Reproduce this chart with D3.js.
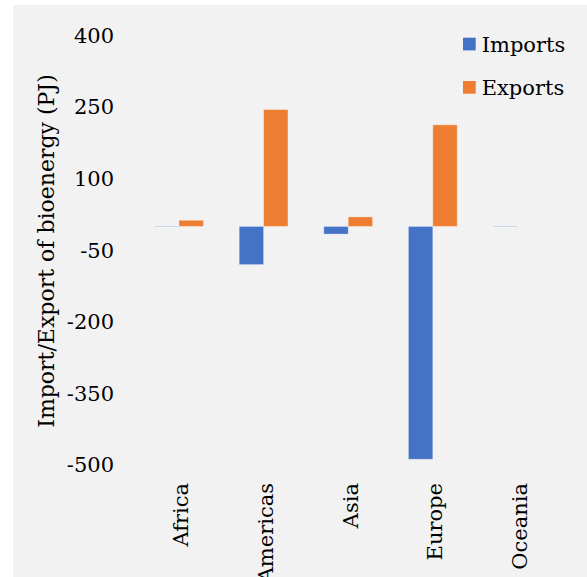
<!DOCTYPE html>
<html>
<head>
<meta charset="utf-8">
<script src="https://cdn.jsdelivr.net/npm/d3@7"></script>
<style>
  html, body { margin: 0; padding: 0; background: #fff; }
  svg text { font-family: "DejaVu Serif", serif; fill: #000; }
</style>
</head>
<body>
<svg id="chart" width="587" height="577"></svg>
<script>
// ----- data -----
const regions = ["Africa", "Americas", "Asia", "Europe", "Oceania"];
const seriesNames = ["Imports", "Exports"];
const imports = [-0.8, -80, -16, -488, -0.8];
const exports = [13, 245, 20, 213, 0];
const yTicks = [400, 250, 100, -50, -200, -350, -500];

const colors = ["#4472c4", "#ed7d31"];

const svg = d3.select("#chart");
const W = 587, H = 577;

// background panel
svg.append("rect")
    .attr("x", 13).attr("y", 5)
    .attr("width", W - 13).attr("height", H - 5)
    .attr("fill", "#f2f2f2");

// scales
const x = d3.scaleBand().domain(regions).range([136.7, 559.7])
    .paddingInner(0.423).paddingOuter(0.2115);
const xs = d3.scaleBand().domain(seriesNames).range([0, x.bandwidth()]);
const y = d3.scaleLinear().domain([-500, 400]).range([465, 35.6]);

// y axis (labels only, plain hyphen for negatives)
const yAxis = svg.append("g")
    .attr("transform", "translate(118,0)")
    .call(d3.axisLeft(y).tickValues(yTicks).tickSize(0).tickPadding(4).tickFormat(d => String(d)));
yAxis.select(".domain").remove();
yAxis.selectAll("text")
    .style("font-family", '"DejaVu Serif", serif')
    .style("font-size", "21px")
    .attr("fill", "#000");

// bars
const rows = regions.map((r, i) => ({ region: r, values: [imports[i], exports[i]] }));
const groups = svg.append("g").selectAll("g")
    .data(rows)
    .join("g")
    .attr("transform", d => `translate(${x(d.region)},0)`);

groups.selectAll("rect")
    .data(d => d.values.map((v, j) => ({ key: seriesNames[j], value: v, j })))
    .join("rect")
    .attr("x", d => xs(d.key))
    .attr("width", xs.bandwidth())
    .attr("y", d => y(Math.max(0, d.value)))
    .attr("height", d => Math.abs(y(d.value) - y(0)))
    .attr("fill", d => colors[d.j])
    .attr("stroke", "rgba(255,255,255,0.35)")
    .attr("stroke-width", 1);

// category labels (rotated)
svg.append("g").selectAll("text")
    .data(regions)
    .join("text")
    .attr("transform", d => `translate(${x(d) + x.bandwidth() / 2 + 2},483) rotate(-90)`)
    .attr("text-anchor", "end")
    .attr("dy", "0.35em")
    .style("font-size", "21px")
    .text(d => d);

// y title
svg.append("text")
    .attr("transform", "translate(46,251) rotate(-90)")
    .attr("text-anchor", "middle")
    .attr("dy", "0.35em")
    .style("font-size", "22px")
    .text("Import/Export of bioenergy (PJ)");

// legend
const legend = svg.append("g").selectAll("g")
    .data(seriesNames)
    .join("g")
    .attr("transform", (d, i) => `translate(463,${37.7 + i * 43.3})`);
legend.append("rect")
    .attr("width", 12.7).attr("height", 12.7)
    .attr("fill", (d, i) => colors[i]);
legend.append("text")
    .attr("x", 18.7).attr("y", 6.5)
    .attr("dy", "0.35em")
    .style("font-size", "21px")
    .text(d => d);
</script>
</body>
</html>
